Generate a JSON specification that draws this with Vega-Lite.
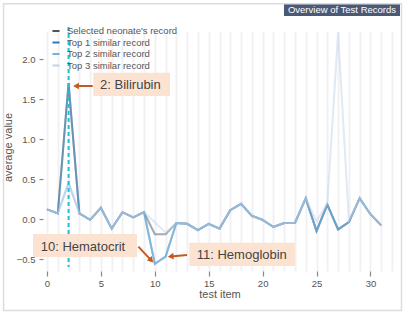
{
  "$schema": "https://vega.github.io/schema/vega-lite/v6.json",
  "width": 345,
  "height": 240,
  "autosize": {"type": "none"},
  "padding": {"left": 47, "top": 27, "right": 15, "bottom": 49},
  "background": "white",
  "config": {
    "view": {"stroke": null},
    "font": "Liberation Sans",
    "axis": {"labelFont": "Liberation Sans", "titleFont": "Liberation Sans"},
    "axisX": {
      "tickCount": 32,
      "labelExpr": "datum.value % 5 === 0 && datum.value <= 30 ? datum.label : ''",
      "labelOverlap": false,
      "grid": true, "gridColor": "#f1f1f4", "gridWidth": 2, "gridOpacity": 1,
      "domain": false, "offset": 4, "tickSize": 5, "tickWidth": 1.2,
      "labelFontSize": 9.5, "labelColor": "#555", "labelPadding": 2, "labelFlush": false,
      "titleFontSize": 11, "titleFontWeight": "normal", "titleColor": "#555", "titlePadding": 1
    },
    "axisY": {
      "tickCount": 6,
      "format": ".1f",
      "grid": false, "domain": false, "offset": 4, "tickSize": 4, "tickColor": "#888", "tickWidth": 1.2,
      "labelFontSize": 9.5, "labelColor": "#555", "labelPadding": 4,
      "titleFontSize": 11, "titleFontWeight": "normal", "titleColor": "#555", "titlePadding": 3
    },
    "legend": {"labelFont": "Liberation Sans"}
  },
  "layer": [
    {
      "data": {"values": [
        {"item":0,"record":"Selected neonate's record","value":0.12},{"item":1,"record":"Selected neonate's record","value":0.07},{"item":2,"record":"Selected neonate's record","value":1.7},{"item":3,"record":"Selected neonate's record","value":0.07},{"item":4,"record":"Selected neonate's record","value":-0.01},{"item":5,"record":"Selected neonate's record","value":0.14},{"item":6,"record":"Selected neonate's record","value":-0.12},{"item":7,"record":"Selected neonate's record","value":0.085},{"item":8,"record":"Selected neonate's record","value":0.02},{"item":9,"record":"Selected neonate's record","value":0.085},{"item":10,"record":"Selected neonate's record","value":-0.19},{"item":11,"record":"Selected neonate's record","value":-0.19},{"item":12,"record":"Selected neonate's record","value":-0.05},{"item":13,"record":"Selected neonate's record","value":-0.06},{"item":14,"record":"Selected neonate's record","value":-0.14},{"item":15,"record":"Selected neonate's record","value":-0.06},{"item":16,"record":"Selected neonate's record","value":-0.12},{"item":17,"record":"Selected neonate's record","value":0.11},{"item":18,"record":"Selected neonate's record","value":0.19},{"item":19,"record":"Selected neonate's record","value":0.04},{"item":20,"record":"Selected neonate's record","value":-0.01},{"item":21,"record":"Selected neonate's record","value":-0.1},{"item":22,"record":"Selected neonate's record","value":-0.05},{"item":23,"record":"Selected neonate's record","value":-0.05},{"item":24,"record":"Selected neonate's record","value":0.26},{"item":25,"record":"Selected neonate's record","value":-0.15},{"item":26,"record":"Selected neonate's record","value":0.18},{"item":27,"record":"Selected neonate's record","value":-0.13},{"item":28,"record":"Selected neonate's record","value":-0.04},{"item":29,"record":"Selected neonate's record","value":0.26},{"item":30,"record":"Selected neonate's record","value":0.06},{"item":31,"record":"Selected neonate's record","value":-0.08},
        {"item":0,"record":"Top 1 similar record","value":0.12},{"item":1,"record":"Top 1 similar record","value":0.07},{"item":2,"record":"Top 1 similar record","value":1.7},{"item":3,"record":"Top 1 similar record","value":0.07},{"item":4,"record":"Top 1 similar record","value":-0.01},{"item":5,"record":"Top 1 similar record","value":0.14},{"item":6,"record":"Top 1 similar record","value":-0.12},{"item":7,"record":"Top 1 similar record","value":0.085},{"item":8,"record":"Top 1 similar record","value":0.02},{"item":9,"record":"Top 1 similar record","value":0.085},{"item":10,"record":"Top 1 similar record","value":-0.56},{"item":11,"record":"Top 1 similar record","value":-0.47},{"item":12,"record":"Top 1 similar record","value":-0.05},{"item":13,"record":"Top 1 similar record","value":-0.06},{"item":14,"record":"Top 1 similar record","value":-0.14},{"item":15,"record":"Top 1 similar record","value":-0.06},{"item":16,"record":"Top 1 similar record","value":-0.12},{"item":17,"record":"Top 1 similar record","value":0.11},{"item":18,"record":"Top 1 similar record","value":0.19},{"item":19,"record":"Top 1 similar record","value":0.04},{"item":20,"record":"Top 1 similar record","value":-0.01},{"item":21,"record":"Top 1 similar record","value":-0.1},{"item":22,"record":"Top 1 similar record","value":-0.05},{"item":23,"record":"Top 1 similar record","value":-0.05},{"item":24,"record":"Top 1 similar record","value":0.26},{"item":25,"record":"Top 1 similar record","value":-0.15},{"item":26,"record":"Top 1 similar record","value":0.18},{"item":27,"record":"Top 1 similar record","value":-0.13},{"item":28,"record":"Top 1 similar record","value":-0.04},{"item":29,"record":"Top 1 similar record","value":0.26},{"item":30,"record":"Top 1 similar record","value":0.06},{"item":31,"record":"Top 1 similar record","value":-0.08},
        {"item":0,"record":"Top 2 similar record","value":0.12},{"item":1,"record":"Top 2 similar record","value":0.07},{"item":2,"record":"Top 2 similar record","value":0.45},{"item":3,"record":"Top 2 similar record","value":0.07},{"item":4,"record":"Top 2 similar record","value":-0.01},{"item":5,"record":"Top 2 similar record","value":0.14},{"item":6,"record":"Top 2 similar record","value":-0.12},{"item":7,"record":"Top 2 similar record","value":0.085},{"item":8,"record":"Top 2 similar record","value":0.02},{"item":9,"record":"Top 2 similar record","value":0.085},{"item":10,"record":"Top 2 similar record","value":-0.56},{"item":11,"record":"Top 2 similar record","value":-0.47},{"item":12,"record":"Top 2 similar record","value":-0.05},{"item":13,"record":"Top 2 similar record","value":-0.06},{"item":14,"record":"Top 2 similar record","value":-0.14},{"item":15,"record":"Top 2 similar record","value":-0.06},{"item":16,"record":"Top 2 similar record","value":-0.12},{"item":17,"record":"Top 2 similar record","value":0.11},{"item":18,"record":"Top 2 similar record","value":0.19},{"item":19,"record":"Top 2 similar record","value":0.04},{"item":20,"record":"Top 2 similar record","value":-0.01},{"item":21,"record":"Top 2 similar record","value":-0.1},{"item":22,"record":"Top 2 similar record","value":-0.05},{"item":23,"record":"Top 2 similar record","value":-0.05},{"item":24,"record":"Top 2 similar record","value":0.26},{"item":25,"record":"Top 2 similar record","value":-0.15},{"item":26,"record":"Top 2 similar record","value":0.18},{"item":27,"record":"Top 2 similar record","value":-0.13},{"item":28,"record":"Top 2 similar record","value":-0.04},{"item":29,"record":"Top 2 similar record","value":0.26},{"item":30,"record":"Top 2 similar record","value":0.06},{"item":31,"record":"Top 2 similar record","value":-0.08},
        {"item":0,"record":"Top 3 similar record","value":0.12},{"item":1,"record":"Top 3 similar record","value":0.07},{"item":2,"record":"Top 3 similar record","value":0.45},{"item":3,"record":"Top 3 similar record","value":0.07},{"item":4,"record":"Top 3 similar record","value":-0.01},{"item":5,"record":"Top 3 similar record","value":0.14},{"item":6,"record":"Top 3 similar record","value":-0.12},{"item":7,"record":"Top 3 similar record","value":0.085},{"item":8,"record":"Top 3 similar record","value":0.02},{"item":9,"record":"Top 3 similar record","value":0.085},{"item":10,"record":"Top 3 similar record","value":-0.04},{"item":11,"record":"Top 3 similar record","value":-0.17},{"item":12,"record":"Top 3 similar record","value":-0.05},{"item":13,"record":"Top 3 similar record","value":-0.06},{"item":14,"record":"Top 3 similar record","value":-0.14},{"item":15,"record":"Top 3 similar record","value":-0.06},{"item":16,"record":"Top 3 similar record","value":-0.12},{"item":17,"record":"Top 3 similar record","value":0.11},{"item":18,"record":"Top 3 similar record","value":0.19},{"item":19,"record":"Top 3 similar record","value":0.04},{"item":20,"record":"Top 3 similar record","value":-0.01},{"item":21,"record":"Top 3 similar record","value":-0.1},{"item":22,"record":"Top 3 similar record","value":-0.05},{"item":23,"record":"Top 3 similar record","value":-0.05},{"item":24,"record":"Top 3 similar record","value":0.26},{"item":25,"record":"Top 3 similar record","value":-0.03},{"item":26,"record":"Top 3 similar record","value":0.2},{"item":27,"record":"Top 3 similar record","value":2.33},{"item":28,"record":"Top 3 similar record","value":-0.02},{"item":29,"record":"Top 3 similar record","value":0.26},{"item":30,"record":"Top 3 similar record","value":0.06},{"item":31,"record":"Top 3 similar record","value":-0.08}
      ]},
      "mark": {"type": "line", "strokeWidth": 2, "opacity": 0.5},
      "encoding": {
        "x": {
          "field": "item", "type": "quantitative", "title": "test item",
          "scale": {"domain": [0, 32], "nice": false, "zero": false},
          "axis": {"tickColor": {"condition": {"test": "datum.value % 5 === 0 && datum.value <= 30", "value": "#888888"}, "value": "rgba(0,0,0,0)"}}
        },
        "y": {
          "field": "value", "type": "quantitative", "title": "average value",
          "scale": {"domain": [-0.6, 2.4], "nice": false, "zero": false}
        },
        "color": {
          "field": "record", "type": "nominal",
          "scale": {
            "domain": ["Selected neonate's record", "Top 1 similar record", "Top 2 similar record", "Top 3 similar record"],
            "range": ["#4a5560", "#2b7bba", "#6fb0de", "#c3d3ea"]
          },
          "legend": {
            "title": null, "orient": "none", "legendX": 4, "legendY": -1, "padding": 0,
            "symbolType": "stroke", "symbolSize": 50, "symbolStrokeWidth": 2, "symbolOpacity": 1,
            "labelFontSize": 9.5, "labelColor": "#555", "labelOffset": 6, "rowPadding": 1.5
          }
        }
      }
    },
    {
      "data": {"values": [{"item": 2}]},
      "mark": {"type": "rule", "color": "#22bfd3", "strokeWidth": 2, "strokeDash": [4, 3]},
      "encoding": {"x": {"field": "item", "type": "quantitative", "title": "test item"}}
    },
    {
      "data": {"values": [
        {"x1": 4.29, "x2": 11.41, "y1": 1.829, "y2": 1.5375},
        {"x1": -1.30, "x2": 8.35, "y1": -0.1875, "y2": -0.475},
        {"x1": 13.2, "x2": 23.0, "y1": -0.296, "y2": -0.5875}
      ]},
      "mark": {"type": "rect", "fill": "#fce3d1"},
      "encoding": {
        "x": {"field": "x1", "type": "quantitative", "title": "test item"},
        "x2": {"field": "x2"},
        "y": {"field": "y1", "type": "quantitative", "title": "average value"},
        "y2": {"field": "y2"}
      }
    },
    {
      "data": {"values": [
        {"label": "2: Bilirubin", "x": 4.92, "y": 1.68},
        {"label": "10: Hematocrit", "x": -0.584, "y": -0.346},
        {"label": "11: Hemoglobin", "x": 13.89, "y": -0.45}
      ]},
      "mark": {"type": "text", "align": "left", "baseline": "middle", "fontSize": 13, "color": "#444"},
      "encoding": {
        "x": {"field": "x", "type": "quantitative", "title": "test item"},
        "y": {"field": "y", "type": "quantitative", "title": "average value"},
        "text": {"field": "label"}
      }
    },
    {
      "data": {"values": [
        {"x1": 4.24, "y1": 1.6625, "x2": 2.69, "y2": 1.6625, "angle": 180},
        {"x1": 8.47, "y1": -0.346, "x2": 9.67, "y2": -0.5175, "angle": 46.6},
        {"x1": 12.99, "y1": -0.45, "x2": 11.47, "y2": -0.4675, "angle": 175.2}
      ]},
      "layer": [
        {
          "mark": {"type": "rule", "color": "#c65a1e", "strokeWidth": 2},
          "encoding": {
            "x": {"field": "x1", "type": "quantitative", "title": "test item"},
            "y": {"field": "y1", "type": "quantitative", "title": "average value"},
            "x2": {"field": "x2"},
            "y2": {"field": "y2"}
          }
        },
        {
          "mark": {"type": "point", "shape": "triangle-right", "filled": true, "color": "#c65a1e", "size": 45, "opacity": 1},
          "encoding": {
            "x": {"field": "x2", "type": "quantitative", "title": "test item"},
            "y": {"field": "y2", "type": "quantitative", "title": "average value"},
            "angle": {"field": "angle", "type": "quantitative", "scale": null}
          }
        }
      ]
    },
    {
      "data": {"values": [{"x1": 21.98, "x2": 32.74, "y1": 2.6875, "y2": 2.5375}]},
      "mark": {"type": "rect", "fill": "#4b5876"},
      "encoding": {
        "x": {"field": "x1", "type": "quantitative", "title": "test item"},
        "x2": {"field": "x2"},
        "y": {"field": "y1", "type": "quantitative", "title": "average value"},
        "y2": {"field": "y2"}
      }
    },
    {
      "data": {"values": [{"title": "Overview of Test Records", "x": 27.36, "y": 2.6125}]},
      "mark": {"type": "text", "align": "center", "baseline": "middle", "fontSize": 9.5, "color": "white"},
      "encoding": {
        "x": {"field": "x", "type": "quantitative", "title": "test item"},
        "y": {"field": "y", "type": "quantitative", "title": "average value"},
        "text": {"field": "title"}
      }
    },
    {
      "data": {"values": [{"x1": -4.03, "x2": 32.88, "y1": 2.69, "y2": -1.144}]},
      "mark": {"type": "rect", "fillOpacity": 0, "stroke": "#dddddd", "strokeWidth": 1.5},
      "encoding": {
        "x": {"field": "x1", "type": "quantitative", "title": "test item"},
        "x2": {"field": "x2"},
        "y": {"field": "y1", "type": "quantitative", "title": "average value"},
        "y2": {"field": "y2"}
      }
    }
  ]
}
